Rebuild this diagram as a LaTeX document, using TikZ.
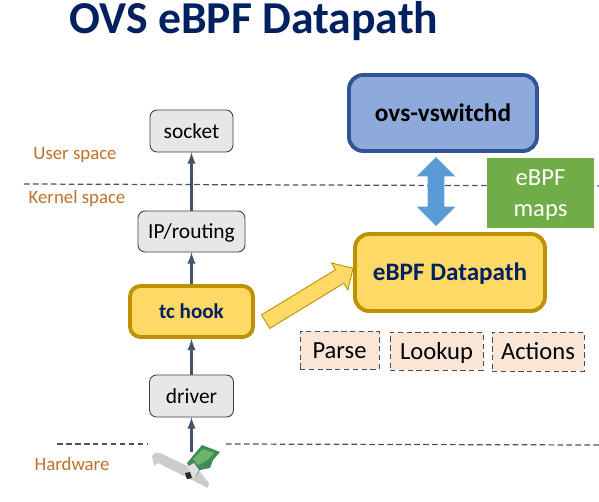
\documentclass[tikz,border=0pt]{standalone}
\usepackage{fontspec}
\setmainfont{Carlito}
\usetikzlibrary{shapes.arrows}

\definecolor{titlenavy}{HTML}{002060}
\definecolor{bandbrown}{HTML}{C0702A}
\definecolor{linegray}{HTML}{44546A}
\definecolor{boxgray}{HTML}{E7E7E7}
\definecolor{hookfill}{HTML}{FFD966}
\definecolor{hookline}{HTML}{BF9000}
\definecolor{ovsfill}{HTML}{8EAADB}
\definecolor{ovsline}{HTML}{2F5597}
\definecolor{mapfill}{HTML}{70AD47}
\definecolor{stepfill}{HTML}{FBE5D6}
\definecolor{arrowblue}{HTML}{5B9BD5}
\definecolor{cardgreen}{HTML}{3F8A55}
\definecolor{cardlight}{HTML}{6DB56E}

\tikzset{
  graybox/.style={draw=black!75, fill=boxgray, rounded corners=4pt, line width=0.5pt, font=\fontsize{12.2}{14}\selectfont, inner sep=0pt, text height=11.4pt, text depth=3pt},
  hookbox/.style={draw=hookline, fill=hookfill, rounded corners=6pt, line width=2.2pt, text=titlenavy, font=\fontsize{12}{14}\selectfont\bfseries, inner sep=0pt},
  stepbox/.style={draw=black!70, fill=stepfill, densely dashed, line width=0.5pt, font=\fontsize{14}{16}\selectfont, inner sep=0pt, text height=12.5pt, text depth=3pt},
  bandlabel/.style={text=bandbrown, font=\fontsize{10.7}{12}\selectfont},
  bandline/.style={draw=linegray, dash pattern=on 3.2pt off 1.9pt, line width=0.7pt},
  flowline/.style={draw=linegray, line width=1.2pt, -latex},
}

\begin{document}
\begin{tikzpicture}[x=0.02cm, y=-0.02cm]
    \useasboundingbox (0, 0) rectangle (599, 501);

    % Title
    \node[text=titlenavy, font=\fontsize{26}{30}\selectfont\bfseries, inner sep=0pt] (title) at (254, 21) {OVS eBPF Datapath};

    % Space boundaries
    \coordinate (kernelleft) at (24, 184);
    \coordinate (kernelright) at (599, 186);
    \coordinate (hwleft) at (57, 444);
    \coordinate (hwmidleft) at (148, 444);
    \coordinate (hwmidright) at (226, 444);
    \coordinate (hwright) at (599, 445);
    \draw[bandline] (kernelleft) -- (kernelright);
    \draw[bandline] (hwleft) -- (hwmidleft);
    \draw[bandline] (hwmidright) -- (hwright);

    \node[bandlabel] (userlabel) at (75, 154.5) {User space};
    \node[bandlabel] (kernellabel) at (77, 198) {Kernel space};
    \node[bandlabel] (hwlabel) at (72, 464) {Hardware};

    % Left stack
    \node[graybox, minimum width=1.66cm, minimum height=0.84cm] (socket) at (191.5, 131) {socket};
    \node[graybox, minimum width=2.14cm, minimum height=0.82cm] (routing) at (191.5, 231.5) {IP/routing};
    \node[hookbox, minimum width=2.46cm, minimum height=1.02cm, text height=11pt, text depth=3pt] (tchook) at (191.5, 311.5) {tc hook};
    \node[graybox, minimum width=1.68cm, minimum height=0.84cm] (driver) at (191.5, 396) {driver};

    % Network card
    \coordinate (nic) at (191.5, 452);
    \fill[gray!40] (152, 456) -- (155, 453) -- (160, 453) -- (200, 472) -- (209, 483) -- (208, 488) -- (158, 463) -- (154, 466) -- cycle;
    \fill[cardgreen] (187, 463) -- (202, 445) -- (220, 452) -- (213, 460) -- (210, 468) -- (200, 470) -- (195, 477) -- cycle;
    \fill[cardlight] (193, 459) -- (203, 449) -- (214, 453) -- (206, 461) -- (198, 465) -- cycle;
    \fill[gray!25] (187, 467) -- (194, 463) -- (199, 470) -- (194, 478) -- cycle;
    \fill[black!85] (185, 473) -- (190, 472) -- (192, 478) -- (187, 479) -- cycle;

    \draw[flowline] (routing) -- (socket);
    \draw[flowline] (tchook) -- (routing);
    \draw[flowline] (driver) -- (tchook);
    \draw[flowline] (nic) -- (driver);

    % Right side boxes
    \node[draw=ovsline, fill=ovsfill, rounded corners=8pt, line width=2.2pt, font=\fontsize{14.4}{16}\selectfont\bfseries, inner sep=0pt, minimum width=3.76cm, minimum height=1.52cm] (ovsd) at (443, 113) {ovs-vswitchd};
    \node[hookbox, font=\fontsize{14.3}{16}\selectfont\bfseries, rounded corners=8pt, minimum width=3.8cm, minimum height=1.54cm, text height=12.2pt, text depth=3pt] (datapath) at (450, 272.5) {eBPF Datapath};
    \node[fill=mapfill, text=white, font=\fontsize{14}{17.5}\selectfont, align=center, inner sep=0pt, minimum width=2.14cm, minimum height=1.4cm, text height=29pt] (maps) at (540.5, 193) {eBPF\\maps};

    % Block arrows
    \node[double arrow, fill=arrowblue, inner xsep=0pt, inner ysep=0.16cm, rotate=90, minimum height=1.38cm, double arrow head extend=0.22cm] (syncarrow) at (436, 191.5) {};
    \node[single arrow, draw=hookline, fill=hookfill, line width=0.5pt, inner xsep=0pt, inner ysep=0.15cm, rotate=31.4, minimum height=2.05cm, single arrow head extend=0.155cm] (hookarrow) at (306, 297) {};

    % Datapath steps
    \node[stepbox, minimum width=1.58cm, minimum height=0.76cm] (parse) at (339.5, 350) {Parse};
    \node[stepbox, minimum width=1.86cm, minimum height=0.76cm] (lookup) at (436.5, 351) {Lookup};
    \node[stepbox, minimum width=1.84cm, minimum height=0.78cm] (actions) at (538, 351.5) {Actions};

\end{tikzpicture}
\end{document}
